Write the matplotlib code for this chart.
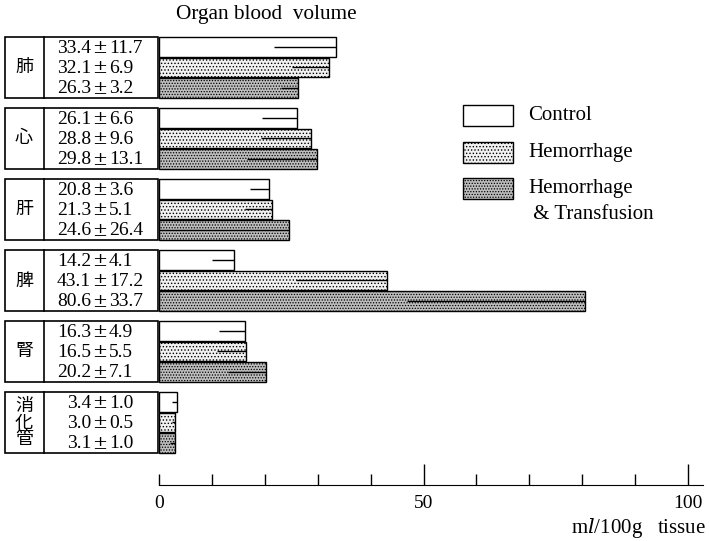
import matplotlib.pyplot as plt
from matplotlib.patches import Rectangle
from matplotlib.ticker import FuncFormatter

plt.rcParams["mathtext.fontset"] = "dejavuserif"
plt.rcParams["hatch.linewidth"] = 0.6

organs = ["肺", "心", "肝", "脾", "腎", "消\n化\n管"]
groups = ["Control", "Hemorrhage", "Hemorrhage\n & Transfusion"]
control_mean = [33.4, 26.1, 20.8, 14.2, 16.3, 3.4]
control_sd = [11.7, 6.6, 3.6, 4.1, 4.9, 1.0]
hem_mean = [32.1, 28.8, 21.3, 43.1, 16.5, 3.0]
hem_sd = [6.9, 9.6, 5.1, 17.2, 5.5, 0.5]
trans_mean = [26.3, 29.8, 24.6, 80.6, 20.2, 3.1]
trans_sd = [3.2, 13.1, 26.4, 33.7, 7.1, 1.0]
major_ticks = [50, 100]
minor_ticks = list(range(0, 100, 10))

means = [control_mean, hem_mean, trans_mean]
sds = [control_sd, hem_sd, trans_sd]
faces = ["white", "#f1f1f1", "#bdbdbd"]
hatches = [None, ".....", "......"]

W, H = 710, 541
serif = "Liberation Serif"
cjk = "Noto Sans CJK JP"

fig = plt.figure(figsize=(W / 100, H / 100), dpi=100)

# canvas in pixel units for the table, legend and labels
cv = fig.add_axes([0, 0, 1, 1])
cv.set_xlim(0, W)
cv.set_ylim(H, 0)
cv.axis("off")

# data axes: x=0 at px 159, x=100 at px 688
x0, px_per = 159, 5.29
ax = fig.add_axes([x0 / W, 0, (W - x0) / W, 1])
ax.set_xlim(0, (W - x0) / px_per)
ax.set_ylim(H, 0)
ax.patch.set_alpha(0)

top0, g_step, b_step = 37, 71, 20.3
for i, organ in enumerate(organs):
    top = top0 + i * g_step
    bottom = top + 3 * b_step
    cv.add_patch(Rectangle((5, top), 153, bottom - top, fill=False, lw=1.2, ec="black"))
    cv.plot([44, 44], [top, bottom], color="black", lw=1.2)
    cv.text(24, (top + bottom) / 2, organ, family=cjk, fontsize=13, ha="center",
            va="center", linespacing=0.9)
    for j in range(3):
        yc = top + (j + 0.5) * b_step
        m, s = means[j][i], sds[j][i]
        ax.barh(yc, m, height=b_step - 0.6, color=faces[j], edgecolor="black",
                lw=1.0, hatch=hatches[j])
        ax.hlines(yc, max(m - s, 0), m, color="black", lw=1.0)
        cv.text(91, yc + 1, f"{m:.1f}", family=serif, fontsize=14, ha="right", va="center")
        cv.text(100, yc + 1, "±", family="DejaVu Serif", fontsize=13, ha="center", va="center")
        cv.text(109, yc + 1, f"{s:.1f}", family=serif, fontsize=14, ha="left", va="center")

# x axis
for sp in ["top", "left", "right"]:
    ax.spines[sp].set_visible(False)
ax.spines["bottom"].set_position(("data", 485))
ax.spines["bottom"].set_bounds(0, 102.8)
ax.set_yticks([])
ax.set_xticks(major_ticks)
ax.set_xticks(minor_ticks, minor=True)
ax.xaxis.set_minor_formatter(FuncFormatter(lambda v, p: "0" if v == 0 else ""))
ax.tick_params(axis="x", which="both", direction="in", width=1, pad=7, labelsize=14)
ax.tick_params(axis="x", which="major", length=15)
ax.tick_params(axis="x", which="minor", length=8)
for lbl in ax.get_xticklabels() + ax.get_xticklabels(minor=True):
    lbl.set_fontfamily(serif)

cv.text(706, 528, r"m$\mathit{l}$/100g   tissue", family=serif, fontsize=15,
        ha="right", va="center")
cv.text(266, 15, "Organ blood  volume", family=serif, fontsize=15.3, ha="center",
        va="center")

# legend
leg_y = [105, 142, 178]
for k, label in enumerate(groups):
    cv.add_patch(Rectangle((463, leg_y[k]), 50, 21, facecolor=faces[k], edgecolor="black",
                           lw=1.0, hatch=hatches[k]))
    cv.text(528, leg_y[k] + 1, label, family=serif, fontsize=15, ha="left",
            va="top", linespacing=1.5)

fig.savefig("out.png", dpi=100)
